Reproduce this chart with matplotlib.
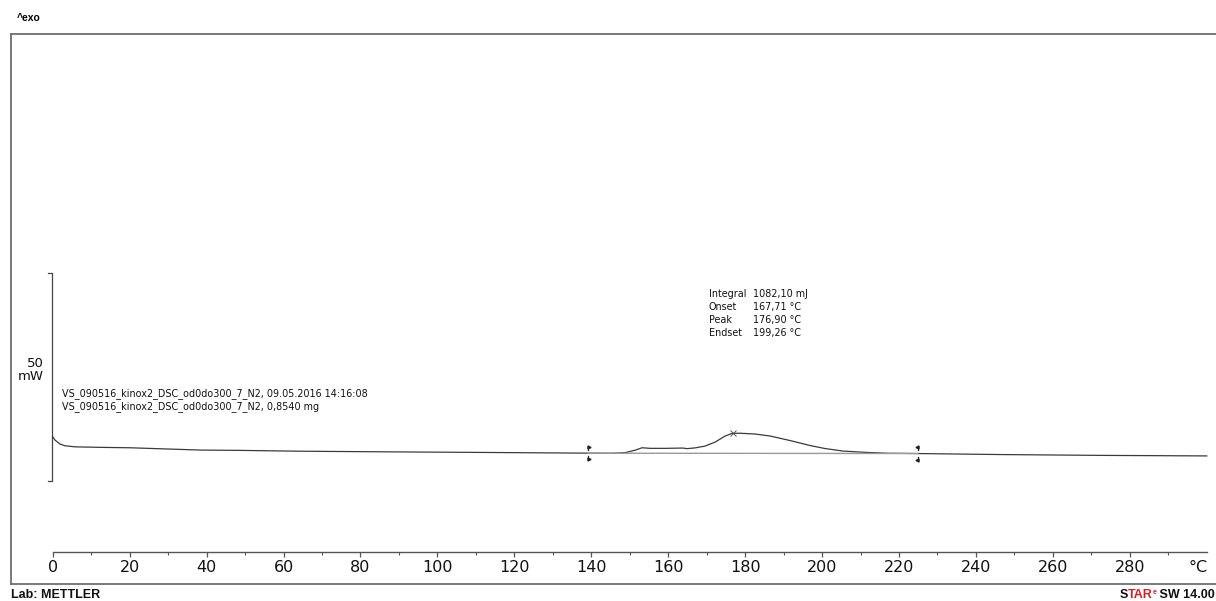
import numpy as np
import matplotlib.pyplot as plt
from matplotlib.lines import Line2D

plt.rcParams["font.family"] = ["DejaVu Sans"]

# DSC curve (temperature in degC, heat flow in mW)
temp = [0.0, 0.6, 1.9, 3.2, 5.8, 12.3, 20.0, 38.3, 48.7, 64.4, 90.3, 116.3,
        140.0, 145.4, 148.8, 151.4, 153.2, 155.3, 159.2, 163.8, 164.9, 167.0,
        169.6, 172.2, 174.8, 176.6, 178.7, 182.6, 186.5, 191.7, 196.9, 200.8,
        205.4, 211.2, 216.9, 225.0, 246.2, 272.2, 300.0]
heat_flow = [10.58, 9.78, 8.82, 8.41, 8.15, 8.03, 7.93, 7.38, 7.30, 7.10, 6.93,
             6.78, 6.63, 6.60, 6.75, 7.35, 7.93, 7.79, 7.79, 7.86, 7.72, 7.90,
             8.34, 9.30, 10.75, 11.39, 11.42, 11.23, 10.75, 9.66, 8.46, 7.74,
             7.14, 6.83, 6.61, 6.54, 6.30, 6.10, 5.97]

# integration limits and baseline
limit_temps = [139.1, 224.9]
limit_flows = [6.62, 6.55]
peak_temp = 176.9
peak_flow = 11.40

scale_bar = [0, 50]  # mW
major_ticks = list(range(0, 300, 20))
minor_ticks = list(range(10, 300, 20))

results_names = ["Integral", "Onset", "Peak", "Endset"]
results_values = ["1082,10 mJ", "167,71 \u00b0C", "176,90 \u00b0C", "199,26 \u00b0C"]

W, H = 1216, 601
fig = plt.figure(figsize=(W / 100, H / 100), dpi=100)
ax = fig.add_axes([0, 0, 1, 1])
ax.set_xlim(-13.7, 302.4)
ax.set_ylim(-28.9, 115.55)
ax.patch.set_alpha(0)


def px(x, y):
    return x / W, 1 - y / H


# outer frame
frame_col = "#6e6e6e"
for xs, ys in [((10.5, 10.5), (33.5, 584)), ((10.5, 1216), (33.5, 33.5)),
               ((10.5, 1216), (584, 584))]:
    p0 = px(xs[0], ys[0])
    p1 = px(xs[1], ys[1])
    fig.add_artist(Line2D([p0[0], p1[0]], [p0[1], p1[1]], color=frame_col,
                          lw=1.3, transform=fig.transFigure))

# x axis
for s in ["top", "right", "left"]:
    ax.spines[s].set_visible(False)
ax.spines["bottom"].set_position(("data", -17.14))
ax.spines["bottom"].set_bounds(0, 300)
ax.spines["bottom"].set_color("#555555")
ax.spines["bottom"].set_linewidth(1.0)
ax.set_xticks(major_ticks)
ax.set_xticks(minor_ticks, minor=True)
ax.tick_params(axis="x", which="major", direction="out", length=3.5, width=0.9,
               color="#555555", labelsize=11.5, pad=2.5, labelcolor="#111111")
ax.tick_params(axis="x", which="minor", direction="out", length=1.8, width=0.8,
               color="#555555")
ax.set_yticks([])
ax.text(297.7, -17.14 - 3.6, "\u00b0C", ha="center", va="center", fontsize=11.5,
        color="#111111")

# scale bar
ax.plot([-1.1, -0.2, -0.2, -1.1], [scale_bar[1], scale_bar[1], scale_bar[0], scale_bar[0]],
        color="#444444", lw=0.9)
ax.text(-2.2, 26.6, "50\nmW", ha="right", va="center", fontsize=9.5,
        linespacing=1.0, color="#111111")

# curve
ax.plot(temp, heat_flow, color="#3a3a3a", lw=0.9)
ax.plot(limit_temps, limit_flows, color="#9a9a9a", lw=1.0)
ax.plot([peak_temp], [peak_flow], marker="x", color="#555555", ms=5, mew=0.7)

# integration limit markers
for t, f, m in zip(limit_temps, limit_flows, [">", "<"]):
    ax.plot([t, t], [f + 0.75, f + 1.5], color="#222222", lw=0.9)
    ax.plot([t, t], [f - 0.75, f - 1.5], color="#222222", lw=0.9)
    off = 0.35 if m == ">" else -0.35
    ax.plot([t + off], [f + 1.45], marker=m, color="#222222", ms=2.2)
    ax.plot([t + off], [f - 1.45], marker=m, color="#222222", ms=2.2)

# sample annotation
ax.text(2.5, 21.0, "VS_090516_kinox2_DSC_od0do300_7_N2, 09.05.2016 14:16:08",
        fontsize=6.9, va="center", color="#111111")
ax.text(2.5, 17.9, "VS_090516_kinox2_DSC_od0do300_7_N2, 0,8540 mg",
        fontsize=6.9, va="center", color="#111111")

# results block
for i, (n, v) in enumerate(zip(results_names, results_values)):
    yv = 44.8 - i * 3.1
    ax.text(170.6, yv, n, fontsize=6.9, va="center", color="#111111")
    ax.text(182.1, yv, v, fontsize=6.9, va="center", color="#111111")

# header / footer
fig.text(*px(17, 18), "^exo", fontsize=7.5, fontweight="bold", va="center",
         family="Liberation Sans")
fig.text(*px(11, 595), "Lab: METTLER", fontsize=9, fontweight="bold", va="center",
         family="Liberation Sans", color="#111111")
foot = dict(fontsize=9, fontweight="bold", family="Liberation Sans")
t_sw = fig.text(*px(1215, 595), " SW 14.00", va="center", ha="right",
                color="#111111", **foot)
t_e = ax.annotate("e", xy=(0, 0.45), xycoords=t_sw, fontsize=5, fontweight="bold",
                  ha="right", va="bottom", family="Liberation Sans", color="#d42020")
t_tar = ax.annotate("TAR", xy=(0, 0), xycoords=(t_e, t_sw), ha="right",
                    va="bottom", color="#d42020", **foot)
ax.annotate("S", xy=(0, 0), xycoords=(t_tar, t_sw), ha="right", va="bottom",
            color="#111111", **foot)

fig.savefig("out.png", dpi=100)
